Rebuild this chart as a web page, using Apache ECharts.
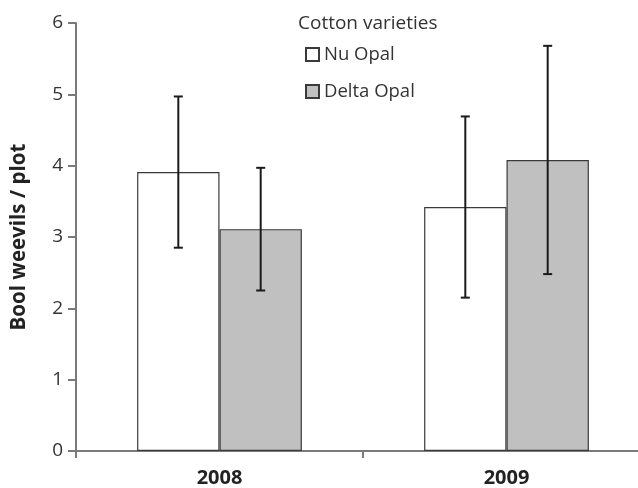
<!DOCTYPE html>
<html>
<head>
<meta charset="utf-8">
<script src="https://cdn.jsdelivr.net/npm/echarts@6/dist/echarts.min.js"></script>
<style>
  html, body { margin: 0; padding: 0; background: #fff; }
  #main { width: 638px; height: 488px; }
</style>
</head>
<body>
<div id="main"></div>
<script>
// values
var years = ['2008', '2009'];
var nuOpal = [3.91, 3.42];
var nuOpalErr = [1.06, 1.27];
var deltaOpal = [3.11, 4.08];
var deltaOpalErr = [0.86, 1.60];
var yTicks = [0, 1, 2, 3, 4, 5, 6];

var FONT = 'Open Sans';
var BAR_FRAC = 0.287; // bar width as part of the category band

function errorSeries(name, means, errs, side) {
    var data = [];
    for (var i = 0; i < means.length; i++) {
        data.push([i, means[i] - errs[i], means[i] + errs[i]]);
    }
    return {
        name: name + ' err',
        type: 'custom',
        z: 10,
        silent: true,
        data: data,
        renderItem: function (params, api) {
            var band = api.size([1, 0])[0];
            var lo = api.coord([api.value(0), api.value(1)]);
            var hi = api.coord([api.value(0), api.value(2)]);
            var x = lo[0] + side * band * BAR_FRAC / 2;
            var cap = 4.5;
            var st = { stroke: '#1a1a1a', lineWidth: 2 };
            return {
                type: 'group',
                children: [
                    { type: 'line', shape: { x1: x, y1: lo[1], x2: x, y2: hi[1] }, style: st },
                    { type: 'line', shape: { x1: x - cap, y1: hi[1], x2: x + cap, y2: hi[1] }, style: st },
                    { type: 'line', shape: { x1: x - cap, y1: lo[1], x2: x + cap, y2: lo[1] }, style: st }
                ]
            };
        }
    };
}

var chart = echarts.init(document.getElementById('main'));
chart.setOption({
    animation: false,
    textStyle: { fontFamily: FONT },
    title: {
        text: 'Cotton varieties',
        left: 293,
        top: 9,
        textStyle: { fontFamily: FONT, fontSize: 19, fontWeight: 'normal', color: '#333' }
    },
    legend: {
        data: ['Nu Opal', 'Delta Opal'],
        orient: 'vertical',
        left: 300,
        top: 40,
        icon: 'rect',
        itemWidth: 13,
        itemHeight: 13,
        itemGap: 18,
        textStyle: { fontFamily: FONT, fontSize: 18.5, color: '#333' }
    },
    // plot runs past the right edge of the picture
    grid: { left: 76, right: -12, top: 23, bottom: 37, outerBoundsMode: 'none' },
    xAxis: {
        type: 'category',
        data: years,
        axisLine: { lineStyle: { color: '#7a7a7a', width: 2 } },
        axisTick: { show: true, length: 7, lineStyle: { color: '#7a7a7a', width: 2 } },
        axisLabel: { margin: 17, fontFamily: FONT, fontSize: 20, fontWeight: 'bold', color: '#222' }
    },
    yAxis: {
        type: 'value',
        min: yTicks[0],
        max: yTicks[yTicks.length - 1],
        interval: 1,
        name: 'Bool weevils / plot',
        nameLocation: 'middle',
        nameGap: 46,
        nameTextStyle: { fontFamily: FONT, fontSize: 20.5, fontWeight: 'bold', color: '#222' },
        axisLine: { show: true, lineStyle: { color: '#7a7a7a', width: 2 } },
        axisTick: { show: true, length: 8, lineStyle: { color: '#7a7a7a', width: 2 } },
        axisLabel: { margin: 13, fontFamily: FONT, fontSize: 19, color: '#333' },
        splitLine: { show: false }
    },
    series: [
        {
            name: 'Nu Opal',
            type: 'bar',
            data: nuOpal,
            barWidth: (BAR_FRAC * 100) + '%',
            barGap: '0%',
            itemStyle: { color: '#ffffff', borderColor: '#3a3a3a', borderWidth: 1.2 }
        },
        {
            name: 'Delta Opal',
            type: 'bar',
            data: deltaOpal,
            barWidth: (BAR_FRAC * 100) + '%',
            barGap: '0%',
            itemStyle: { color: '#c0c0c0', borderColor: '#3a3a3a', borderWidth: 1.2 }
        },
        errorSeries('Nu Opal', nuOpal, nuOpalErr, -1),
        errorSeries('Delta Opal', deltaOpal, deltaOpalErr, 1)
    ]
});
</script>
</body>
</html>
